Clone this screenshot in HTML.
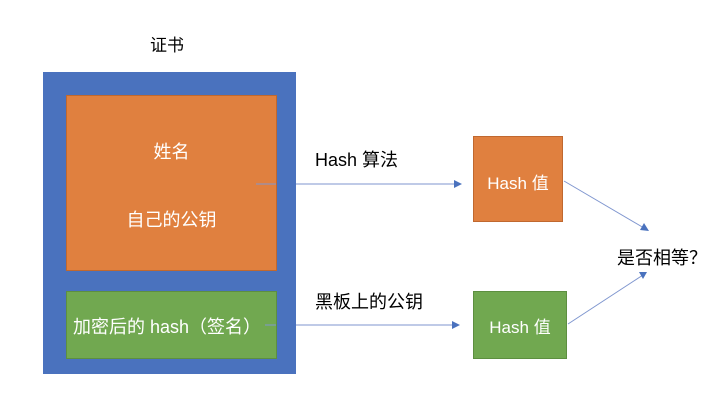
<!DOCTYPE html>
<html><head><meta charset="utf-8"><style>
body{margin:0;width:720px;height:417px;background:#fff;position:relative;overflow:hidden;font-family:"Liberation Sans","Noto Sans CJK SC",sans-serif}
.a{position:absolute}
.t{position:absolute;white-space:nowrap}
</style></head><body>
<div class="t" style="left:150px;top:31px;font-size:17px;color:#000">证书</div>
<div class="a" style="left:43px;top:72px;width:253px;height:302px;background:#4a72be;"></div>
<div class="a" style="left:66px;top:95px;width:211px;height:176px;background:#e0803f;border:1px solid #c0682f;box-sizing:border-box"></div>
<div class="a" style="left:66px;top:291px;width:211px;height:68px;background:#71a850;border:1px solid #5d8f40;box-sizing:border-box"></div>
<div class="t" style="left:66px;width:211px;text-align:center;top:138px;font-size:18px;color:#fff">姓名</div>
<div class="t" style="left:66px;width:211px;text-align:center;top:206px;font-size:18px;color:#fff">自己的公钥</div>
<div class="t" style="left:73px;top:313px;font-size:18px;color:#fff">加密后的 hash（签名）</div>
<div class="a" style="left:473px;top:136px;width:90px;height:86px;background:#e0803f;border:1px solid #c0682f;box-sizing:border-box"></div>
<div class="t" style="left:473px;width:90px;text-align:center;top:169px;font-size:17px;color:#fff">Hash 值</div>
<div class="a" style="left:473px;top:291px;width:94px;height:68px;background:#71a850;border:1px solid #5d8f40;box-sizing:border-box"></div>
<div class="t" style="left:473px;width:94px;text-align:center;top:313px;font-size:17px;color:#fff">Hash 值</div>
<div class="t" style="left:315px;top:146px;font-size:18px;color:#000">Hash 算法</div>
<div class="t" style="left:315px;top:288px;font-size:18px;color:#000">黑板上的公钥</div>
<div class="t" style="left:617px;top:244px;font-size:18px;color:#000">是否相等？</div>
<svg class="a" style="left:0;top:0" width="720" height="417">
<g stroke="#7f96cf" stroke-width="1" fill="none">
<line x1="256" y1="184" x2="276" y2="184"/>
<line x1="296" y1="184" x2="456" y2="184"/>
<line x1="265" y1="325" x2="276" y2="325"/>
<line x1="296" y1="325" x2="454" y2="325"/>
<line x1="564" y1="181" x2="644" y2="228"/>
<line x1="568" y1="324" x2="643" y2="275"/>
</g>
<g fill="#4a72be">
<polygon points="462,184 454,180 454,188"/>
<polygon points="460,325 452,321 452,329"/>
<polygon points="649,231 640,230 644,223"/>
<polygon points="647,272 643,279 639,272"/>
</g>
</svg>
</body></html>
